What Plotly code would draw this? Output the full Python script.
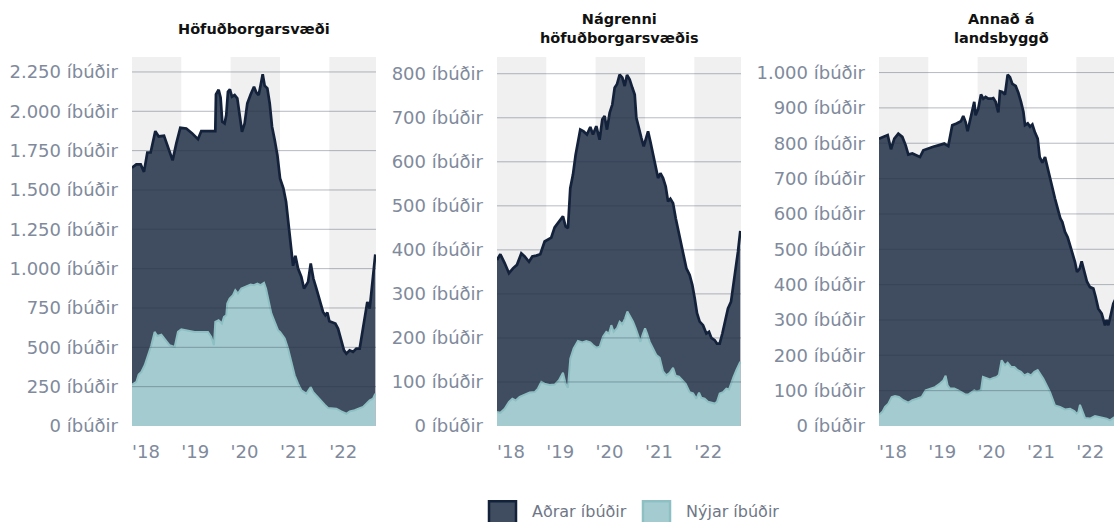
import plotly.graph_objects as go
import pandas as pd

# ---------------- data (decimal year, number of apartments) ----------------
# Höfuðborgarsvæði – total (Aðrar + Nýjar) and Nýjar
hof_total_t = [2018.000, 2018.088, 2018.176, 2018.243, 2018.311, 2018.378, 2018.473, 2018.541, 2018.649, 2018.743,
               2018.824, 2018.899, 2018.980, 2019.101, 2019.216, 2019.338, 2019.405, 2019.541, 2019.689, 2019.703,
               2019.757, 2019.797, 2019.831, 2019.878, 2019.912, 2019.946, 2019.986, 2020.027, 2020.081, 2020.135,
               2020.182, 2020.230, 2020.284, 2020.338, 2020.405, 2020.473, 2020.520, 2020.568, 2020.608, 2020.649,
               2020.689, 2020.743, 2020.791, 2020.838, 2020.892, 2020.946, 2021.000, 2021.068, 2021.122, 2021.176,
               2021.230, 2021.264, 2021.311, 2021.365, 2021.432, 2021.486, 2021.527, 2021.568, 2021.622, 2021.676,
               2021.736, 2021.804, 2021.872, 2021.919, 2021.959, 2022.000, 2022.054, 2022.122, 2022.176, 2022.243,
               2022.297, 2022.345, 2022.412, 2022.480, 2022.547, 2022.615, 2022.649, 2022.716, 2022.770, 2022.818,
               2022.865, 2022.905, 2022.932]
hof_total_v = [1641, 1662, 1662, 1615, 1738, 1738, 1874, 1840, 1844, 1764,
               1688, 1796, 1895, 1891, 1861, 1823, 1874, 1874, 1874, 2107,
               2137, 2086, 1933, 1923, 1976, 2124, 2139, 2093, 2103, 2082,
               1987, 1870, 1923, 2050, 2107, 2156, 2120, 2103, 2167, 2235,
               2163, 2146, 2050, 1902, 1817, 1721, 1573, 1510, 1425, 1255,
               1086, 1018, 1081, 1001, 948, 874, 895, 916, 1033, 937,
               874, 799, 725, 704, 721, 666, 661, 651, 619, 534,
               481, 460, 481, 471, 492, 492, 556, 661, 789, 746,
               874, 1001, 1090]
hof_new_t = [2018.000, 2018.088, 2018.135, 2018.189, 2018.257, 2018.324, 2018.392, 2018.459, 2018.514, 2018.595,
             2018.676, 2018.764, 2018.865, 2018.932, 2019.000, 2019.135, 2019.270, 2019.405, 2019.541, 2019.608,
             2019.662, 2019.689, 2019.757, 2019.824, 2019.865, 2019.912, 2019.932, 2019.980, 2020.047, 2020.095,
             2020.149, 2020.216, 2020.284, 2020.351, 2020.405, 2020.473, 2020.541, 2020.608, 2020.676, 2020.716,
             2020.770, 2020.824, 2020.892, 2020.959, 2021.000, 2021.041, 2021.095, 2021.162, 2021.230, 2021.297,
             2021.365, 2021.432, 2021.534, 2021.622, 2021.669, 2021.736, 2021.804, 2021.905, 2021.973, 2022.054,
             2022.142, 2022.243, 2022.345, 2022.412, 2022.514, 2022.615, 2022.682, 2022.750, 2022.818, 2022.885,
             2022.932]
hof_new_v = [263, 280, 327, 343, 386, 450, 513, 598, 572, 581,
             545, 513, 502, 598, 615, 606, 598, 598, 598, 566,
             513, 661, 672, 651, 693, 704, 778, 810, 831, 863,
             842, 874, 884, 895, 899, 895, 905, 895, 910, 874,
             789, 715, 661, 609, 598, 581, 556, 492, 407, 322,
             269, 227, 206, 248, 216, 195, 174, 136, 114, 110,
             110, 93, 78, 93, 100, 114, 121, 142, 163, 174,
             206]

# Nágrenni höfuðborgarsvæðis
nag_total_t = [2018.000, 2018.068, 2018.155, 2018.243, 2018.324, 2018.405, 2018.493, 2018.561, 2018.649, 2018.716,
               2018.797, 2018.878, 2018.966, 2019.034, 2019.101, 2019.169, 2019.257, 2019.338, 2019.392, 2019.439,
               2019.486, 2019.541, 2019.595, 2019.642, 2019.689, 2019.757, 2019.824, 2019.892, 2019.946, 2020.014,
               2020.081, 2020.135, 2020.182, 2020.230, 2020.284, 2020.338, 2020.385, 2020.432, 2020.486, 2020.541,
               2020.588, 2020.635, 2020.689, 2020.743, 2020.791, 2020.824, 2020.878, 2020.926, 2020.973, 2021.014,
               2021.061, 2021.108, 2021.162, 2021.216, 2021.264, 2021.311, 2021.365, 2021.419, 2021.466, 2021.514,
               2021.568, 2021.622, 2021.676, 2021.736, 2021.784, 2021.838, 2021.905, 2021.959, 2022.007, 2022.054,
               2022.108, 2022.176, 2022.243, 2022.297, 2022.345, 2022.412, 2022.459, 2022.514, 2022.568, 2022.635,
               2022.682, 2022.743, 2022.784, 2022.838, 2022.885, 2022.932]
nag_total_v = [377, 390, 370, 347, 358, 366, 392, 385, 373, 385,
               387, 390, 419, 423, 428, 451, 465, 476, 453, 449,
               540, 571, 616, 650, 673, 669, 662, 679, 662, 681,
               650, 696, 704, 673, 711, 730, 768, 776, 798, 791,
               772, 797, 787, 768, 753, 700, 673, 654, 635, 650,
               669, 646, 616, 586, 563, 574, 563, 544, 510, 516,
               506, 472, 442, 408, 389, 358, 343, 320, 290, 256,
               237, 229, 210, 214, 200, 195, 187, 187, 210, 244,
               267, 282, 313, 351, 396, 443]
nag_new_t = [2018.000, 2018.068, 2018.155, 2018.243, 2018.311, 2018.378, 2018.459, 2018.561, 2018.662, 2018.764,
             2018.831, 2018.899, 2018.966, 2019.068, 2019.169, 2019.257, 2019.338, 2019.392, 2019.439, 2019.486,
             2019.554, 2019.642, 2019.730, 2019.811, 2019.892, 2019.946, 2020.014, 2020.081, 2020.149, 2020.216,
             2020.270, 2020.318, 2020.365, 2020.432, 2020.486, 2020.541, 2020.595, 2020.642, 2020.703, 2020.757,
             2020.811, 2020.865, 2020.905, 2020.959, 2021.000, 2021.041, 2021.095, 2021.162, 2021.230, 2021.297,
             2021.365, 2021.432, 2021.500, 2021.568, 2021.622, 2021.689, 2021.757, 2021.824, 2021.905, 2021.973,
             2022.041, 2022.095, 2022.142, 2022.209, 2022.277, 2022.345, 2022.412, 2022.459, 2022.514, 2022.581,
             2022.649, 2022.703, 2022.750, 2022.797, 2022.851, 2022.932]
nag_new_v = [32, 30, 39, 55, 62, 58, 66, 71, 76, 77,
             85, 100, 96, 93, 94, 104, 121, 96, 87, 153,
             176, 193, 190, 193, 190, 184, 178, 180, 203, 214,
             210, 229, 214, 222, 237, 231, 244, 260, 248, 237,
             222, 203, 191, 210, 222, 210, 191, 176, 161, 155,
             124, 115, 121, 132, 114, 112, 104, 96, 77, 74,
             62, 76, 64, 62, 55, 53, 51, 55, 74, 77,
             85, 83, 100, 112, 127, 146]

# Annað á landsbyggð
ann_total_t = [2018.000, 2018.088, 2018.176, 2018.243, 2018.311, 2018.392, 2018.473, 2018.541, 2018.595, 2018.676,
               2018.764, 2018.831, 2018.899, 2018.986, 2019.101, 2019.203, 2019.324, 2019.405, 2019.486, 2019.574,
               2019.662, 2019.709, 2019.757, 2019.797, 2019.845, 2019.892, 2019.932, 2019.959, 2020.014, 2020.068,
               2020.115, 2020.162, 2020.216, 2020.270, 2020.318, 2020.365, 2020.419, 2020.453, 2020.500, 2020.554,
               2020.608, 2020.655, 2020.703, 2020.770, 2020.824, 2020.878, 2020.926, 2020.959, 2021.014, 2021.061,
               2021.108, 2021.162, 2021.216, 2021.257, 2021.311, 2021.365, 2021.419, 2021.466, 2021.514, 2021.568,
               2021.622, 2021.676, 2021.716, 2021.770, 2021.824, 2021.872, 2021.919, 2021.973, 2022.014, 2022.068,
               2022.108, 2022.162, 2022.216, 2022.277, 2022.345, 2022.392, 2022.446, 2022.514, 2022.547, 2022.581,
               2022.615, 2022.649, 2022.682, 2022.750, 2022.838, 2022.932]
ann_total_v = [813, 817, 823, 783, 813, 827, 818, 794, 768, 771,
               766, 761, 780, 785, 790, 794, 799, 792, 851, 856,
               862, 877, 860, 834, 865, 889, 917, 879, 898, 938,
               926, 931, 926, 926, 928, 917, 887, 947, 945, 938,
               994, 987, 968, 962, 943, 917, 889, 851, 856, 847,
               853, 830, 813, 761, 745, 761, 728, 700, 672, 643,
               615, 587, 577, 549, 534, 511, 492, 464, 436, 445,
               466, 436, 408, 393, 389, 365, 332, 318, 304, 285,
               300, 285, 304, 346, 372, 398]
ann_new_t = [2018.000, 2018.068, 2018.122, 2018.189, 2018.257, 2018.324, 2018.405, 2018.493, 2018.595, 2018.676,
             2018.764, 2018.865, 2018.946, 2019.034, 2019.135, 2019.236, 2019.304, 2019.351, 2019.392, 2019.439,
             2019.527, 2019.608, 2019.689, 2019.757, 2019.811, 2019.878, 2019.932, 2019.980, 2020.068, 2020.108,
             2020.182, 2020.250, 2020.318, 2020.385, 2020.432, 2020.486, 2020.554, 2020.608, 2020.676, 2020.743,
             2020.811, 2020.878, 2020.946, 2021.014, 2021.081, 2021.149, 2021.216, 2021.264, 2021.331, 2021.399,
             2021.466, 2021.568, 2021.669, 2021.770, 2021.872, 2021.959, 2022.007, 2022.041, 2022.074, 2022.176,
             2022.277, 2022.378, 2022.514, 2022.615, 2022.682, 2022.750, 2022.932]
ann_new_v = [32, 40, 54, 63, 82, 85, 82, 73, 66, 73,
             77, 82, 101, 106, 110, 120, 129, 142, 115, 106,
             106, 101, 94, 89, 89, 96, 101, 98, 101, 139,
             136, 132, 136, 139, 145, 186, 172, 179, 167, 167,
             158, 153, 143, 148, 143, 153, 158, 148, 134, 115,
             96, 58, 54, 47, 49, 42, 35, 40, 60, 23,
             21, 28, 23, 21, 16, 23, 40]

panel_titles = ["Höfuðborgarsvæði", "Nágrenni<br>höfuðborgarsvæðis", "Annað á<br>landsbyggð"]
legend_labels = ["Aðrar íbúðir", "Nýjar íbúðir"]
year_ticks = [2018, 2019, 2020, 2021, 2022]
year_ticktext = ["'18", "'19", "'20", "'21", "'22"]
shaded_years = [2018, 2020, 2022]
y_max = [2345, 838, 1044]
y_dtick = [250, 100, 100]
x_end = [2022.946, 2022.946, 2022.764]

# ---------------- helpers ----------------
def to_dates(ts):
    out = []
    for t in ts:
        y = int(t)
        s = pd.Timestamp(year=y, month=1, day=1)
        e = pd.Timestamp(year=y + 1, month=1, day=1)
        out.append(s + (e - s) * (t - y))
    return out

DARK_FILL = "#404c5f"
DARK_LINE = "#13223a"
LIGHT_FILL = "#a4ccd0"
LIGHT_LINE = "#8dbfc3"
TICK_COLOR = "#808a9c"
FONT = "DejaVu Sans"

W, H = 1114, 522
TOP, BOTTOM = 57, 425.7
panels_px = [(132, 376), (497, 741), (879, 1114)]

series = [
    (hof_total_t, hof_total_v, hof_new_t, hof_new_v),
    (nag_total_t, nag_total_v, nag_new_t, nag_new_v),
    (ann_total_t, ann_total_v, ann_new_t, ann_new_v),
]

fig = go.Figure()
shapes = []
annotations = []


def py(p):
    return (BOTTOM - p) / (BOTTOM - TOP)


for i, (tt, tv, nt, nv) in enumerate(series):
    k = "" if i == 0 else str(i + 1)
    xa, ya = "x" + k, "y" + k
    fig.add_trace(go.Scatter(x=to_dates(tt), y=tv, xaxis=xa, yaxis=ya, mode="lines",
                             fill="tozeroy", fillcolor=DARK_FILL,
                             line=dict(color=DARK_LINE, width=2.7), showlegend=False,
                             name=legend_labels[0], hoverinfo="skip"))
    fig.add_trace(go.Scatter(x=to_dates(nt), y=nv, xaxis=xa, yaxis=ya, mode="lines",
                             fill="tozeroy", fillcolor=LIGHT_FILL,
                             line=dict(color=LIGHT_LINE, width=2), showlegend=False,
                             name=legend_labels[1], hoverinfo="skip"))
    x0, x1 = panels_px[i]
    dom = [x0 / W, min(x1 / W, 1.0)]
    xstart = to_dates([2018.0])[0]
    xend = to_dates([x_end[i]])[0]
    fig.update_layout(**{
        ("xaxis" + k): dict(domain=dom, anchor=ya, type="date", range=[xstart, xend],
                            showgrid=False, zeroline=False, showline=False, ticks="",
                            tickvals=[pd.Timestamp(year=y, month=1, day=1) for y in year_ticks],
                            ticktext=year_ticktext, ticklabelposition="outside right",
                            ticklabelstandoff=13,
                            tickfont=dict(family=FONT, size=18, color=TICK_COLOR)),
        ("yaxis" + k): dict(domain=[0, 1], anchor=xa, range=[0, y_max[i]], tick0=0, dtick=y_dtick[i],
                            showgrid=False, zeroline=False, showline=False, ticks="",
                            tickformat=",d", ticksuffix=" íbúðir", ticklabelstandoff=13,
                            tickfont=dict(family=FONT, size=18, color=TICK_COLOR)),
    })
    for yr in shaded_years:
        shapes.append(dict(type="rect", xref=xa, yref=ya + " domain",
                           x0=pd.Timestamp(year=yr, month=1, day=1), x1=pd.Timestamp(year=yr + 1, month=1, day=1),
                           y0=0, y1=1, fillcolor="#f0f0f0", line=dict(width=0), layer="below"))
    v = y_dtick[i]
    while v <= y_max[i]:
        shapes.append(dict(type="line", xref=xa + " domain", yref=ya, x0=0, x1=1, y0=v, y1=v,
                           line=dict(color="rgba(40,52,75,0.34)", width=1), layer="above"))
        v += y_dtick[i]
    cx = (panels_px[i][0] + panels_px[i][0] + 244) / 2
    annotations.append(dict(text="<b>" + panel_titles[i] + "</b>", xref="paper", yref="paper",
                            x=cx / W, y=py(29), xanchor="center", yanchor="middle",
                            showarrow=False, font=dict(family=FONT, size=14.5, color="#111111")))

# legend drawn manually (page pixel positions)
leg = [(489, 516, DARK_FILL, DARK_LINE, 530), (643, 670, LIGHT_FILL, LIGHT_LINE, 684)]
for j, (lx0, lx1, fc, lc, tx) in enumerate(leg):
    shapes.append(dict(type="rect", xref="paper", yref="paper", x0=lx0 / W, x1=lx1 / W,
                       y0=py(528), y1=py(501), fillcolor=fc, line=dict(color=lc, width=2.5)))
    annotations.append(dict(text=legend_labels[j], xref="paper", yref="paper", x=tx / W, y=py(511),
                            xanchor="left", yanchor="middle", showarrow=False,
                            font=dict(family=FONT, size=16, color="#6f7787")))

fig.update_layout(width=W, height=H, autosize=False,
                  margin=dict(l=0, r=0, t=TOP, b=H - BOTTOM, pad=0),
                  paper_bgcolor="white", plot_bgcolor="rgba(0,0,0,0)",
                  separators=",.", showlegend=False, hovermode=False,
                  shapes=shapes, annotations=annotations)

fig.write_html("out.html", config={"displayModeBar": False},
               post_script="document.body.style.margin='0px';document.body.style.overflow='hidden';")
